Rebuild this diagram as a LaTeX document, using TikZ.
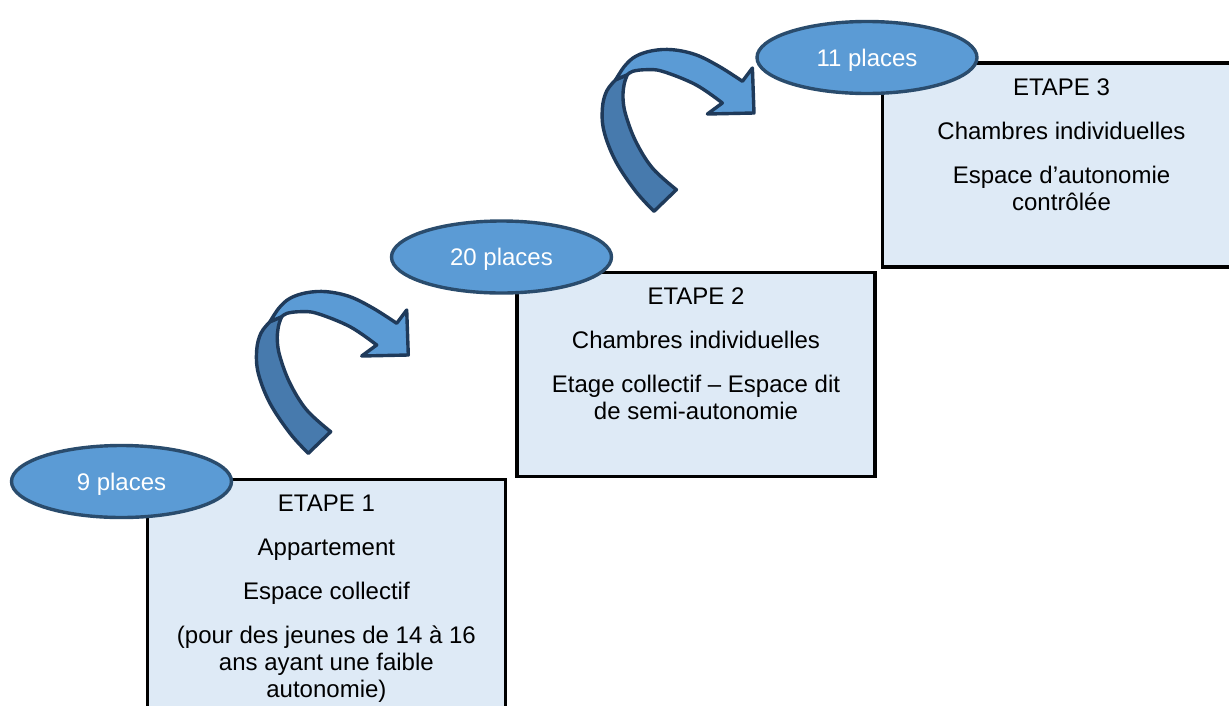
\documentclass[tikz,border=0pt]{standalone}
\usepackage{fontspec}
\setmainfont{Liberation Sans}
\usetikzlibrary{shapes.geometric}

\definecolor{stagefill}{HTML}{DEEAF6}
\definecolor{badgefill}{HTML}{5B9BD5}
\definecolor{badgeline}{HTML}{2A4C6D}
\definecolor{ribbonfront}{HTML}{5B9BD5}
\definecolor{ribbonback}{HTML}{477AAD}
\definecolor{ribbonline}{HTML}{1F3A5A}

\tikzset{
  % curved ribbon arrow: back face rising from the tail, front face ending in the head
  turnarrow/.pic={
    \filldraw[ribbon, fill=ribbonback]
      plot[smooth, tension=0.6] coordinates {(308.3,453.3) (290,433.3) (270,403.3) (258.3,373.3) (256.7,350) (261,333) (270,321.7)}
      -- (281.7,316.7)
      -- plot[smooth, tension=0.6] coordinates {(281.7,316.7) (278.5,326) (277.3,340) (280,356.7) (290,383.3) (306.7,410) (330.7,431.7)}
      -- cycle;
    \filldraw[ribbon, fill=ribbonfront]
      plot[smooth, tension=0.6] coordinates {(270,321.7) (279,308) (290,298.3) (306.7,292.7) (326.7,291.7) (350,296.7) (373.3,308.3) (396.7,323.3)}
      -- (406.7,310) -- (408.3,355) -- (361.7,356) -- (376.7,345)
      -- plot[smooth, tension=0.6] coordinates {(376.7,345) (350,326.7) (316.7,313.3) (300,311.7) (287,313.3) (281.7,316.7)}
      -- cycle;
  }
}

\begin{document}
\begin{tikzpicture}[x=1pt, y=-1pt,
  ribbon/.style={draw=ribbonline, line width=3.4pt, line join=round},
  stagebox/.style={draw=black, line width=3.4pt, fill=stagefill, anchor=north west,
    inner sep=0pt, minimum width=358pt, minimum height=204pt},
  stagetext/.style={anchor=north, align=center, inner sep=0pt,
    font=\fontsize{24}{27}\selectfont},
  badge/.style={ellipse, draw=badgeline, line width=3.4pt, fill=badgefill,
    minimum width=220pt, minimum height=72pt, inner sep=0pt, text=white,
    text depth=0pt, font=\fontsize{24}{27}\selectfont}
]
\useasboundingbox (0,0) rectangle (1229,705);
\fill[white] (0,0) rectangle (1229,705);
\clip (0,0) rectangle (1229,705);

% stage boxes
\node[stagebox, minimum height=260pt] (box1) at (145.7,477.7) {};
\node[stagebox] (box2) at (515.3,270.5) {};
\node[stagebox] (box3) at (880.8,61.2) {};

\node[stagetext] (txt1) at ([yshift=-17.3pt]box1.north)
  {ETAPE 1\\[17pt] Appartement\\[17pt] Espace collectif\\[17pt]
   (pour des jeunes de 14 à 16\\ ans ayant une faible\\ autonomie)};
\node[stagetext] (txt2) at ([yshift=-17.3pt]box2.north)
  {ETAPE 2\\[17pt] Chambres individuelles\\[17pt]
   Etage collectif – Espace dit\\ de semi-autonomie};
\node[stagetext] (txt3) at ([yshift=-17.3pt]box3.north)
  {ETAPE 3\\[17pt] Chambres individuelles\\[17pt]
   Espace d’autonomie\\ contrôlée};

% ribbon arrows between stages
\pic (step1to2) at (0,0) {turnarrow};
\pic (step2to3) at (345.7,-242) {turnarrow};

% capacity badges
\node[badge] (cap1) at (121.5,481.5) {9 places};
\node[badge] (cap2) at (501.5,257) {20 places};
\node[badge] (cap3) at (867,57.5) {11 places};
\end{tikzpicture}
\end{document}
